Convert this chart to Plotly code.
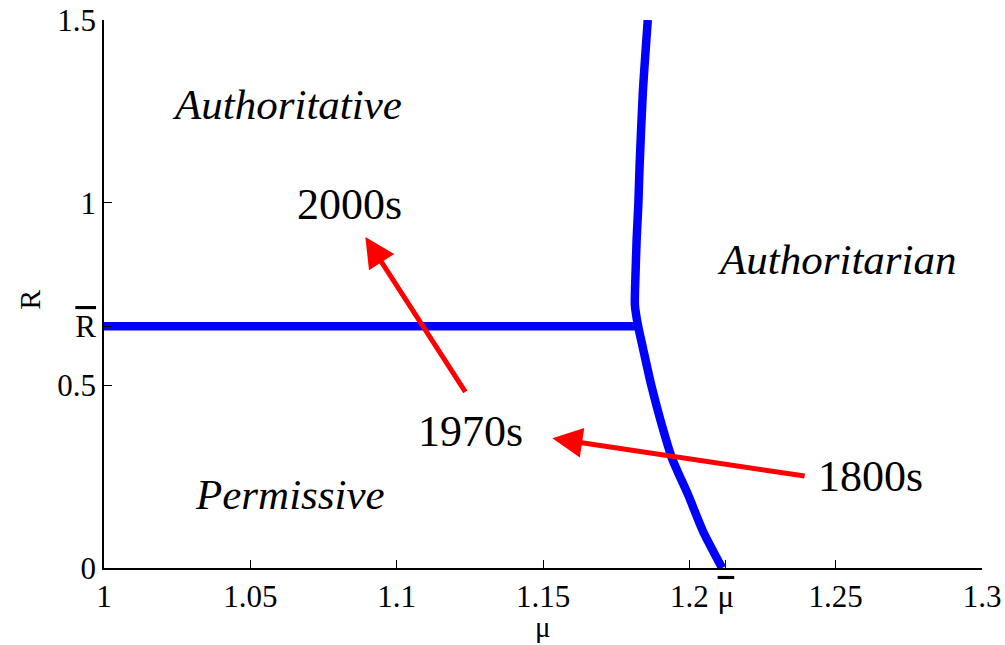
import plotly.graph_objects as go

# Boundary curve (R vs mu)
curve_R  = [1.5, 1.3, 1.1, 1.0, 0.9, 0.8, 0.72, 0.662, 0.6, 0.5, 0.4, 0.3, 0.2, 0.1, 0.0]
curve_mu = [1.1858, 1.1841, 1.1830, 1.1826, 1.1820, 1.1816, 1.1814, 1.1825, 1.1842, 1.1870,
            1.1903, 1.1941, 1.1996, 1.2047, 1.2112]

R_bar = 0.662
mu_bar = 1.2125
hline_mu = [1.0, 1.1825]
hline_R = [R_bar, R_bar]

x_tickvals = [1.0, 1.05, 1.1, 1.15, 1.2, mu_bar, 1.25, 1.3]
x_ticktext = ["1", "1.05", "1.1", "1.15", "1.2",
              "<span style='text-decoration:overline'>\u03bc</span>", "1.25", "1.3"]
y_tickvals = [0, 0.5, R_bar, 1, 1.5]
y_ticktext = ["0", "0.5", "<span style='text-decoration:overline'>R</span>", "1", "1.5"]

region_labels = ["Authoritative", "Authoritarian", "Permissive"]
region_x = [1.0625, 1.2505, 1.0635]
region_y = [1.269, 0.844, 0.201]

era_labels = ["2000s", "1970s", "1800s"]
era_x = [1.0838, 1.1251, 1.2619]
era_y = [0.996, 0.374, 0.251]

# arrows: (tail_mu, tail_R) -> (head_mu, head_R)
arrow_tail_mu = [1.1238, 1.2399]
arrow_tail_R  = [0.478, 0.251]
arrow_head_mu = [1.0893, 1.1532]
arrow_head_R  = [0.906, 0.355]

x_title = "\u03bc"
y_title = "R"

font_family = "Liberation Serif"

fig = go.Figure()
fig.add_trace(go.Scatter(x=curve_mu, y=curve_R, mode="lines",
                         line=dict(color="#0000FF", width=8.5, shape="spline", smoothing=0.6),
                         hoverinfo="skip"))
fig.add_trace(go.Scatter(x=hline_mu, y=hline_R, mode="lines",
                         line=dict(color="#0000FF", width=8.5), hoverinfo="skip"))

annotations = []
for t, x, y in zip(region_labels, region_x, region_y):
    annotations.append(dict(x=x, y=y, xref="x", yref="y", text="<i>%s</i>" % t,
                            showarrow=False, font=dict(family=font_family, size=43, color="black")))
for t, x, y in zip(era_labels, era_x, era_y):
    annotations.append(dict(x=x, y=y, xref="x", yref="y", text=t,
                            showarrow=False, font=dict(family=font_family, size=44, color="black")))
for tx, ty, hx, hy in zip(arrow_tail_mu, arrow_tail_R, arrow_head_mu, arrow_head_R):
    annotations.append(dict(x=hx, y=hy, ax=tx, ay=ty, xref="x", yref="y", axref="x", ayref="y",
                            text="", showarrow=True, arrowhead=2, arrowsize=1.2, arrowwidth=5,
                            arrowcolor="#FF0000"))
# axis titles
annotations.append(dict(x=0.5, y=-0.108, xref="paper", yref="paper", text=x_title,
                        showarrow=False, yanchor="middle",
                        font=dict(family=font_family, size=29, color="black")))
annotations.append(dict(x=-0.085, y=0.49, xref="paper", yref="paper", text=y_title,
                        showarrow=False, textangle=-90, xanchor="center",
                        font=dict(family=font_family, size=30, color="black")))

fig.update_layout(
    width=1005, height=645,
    margin=dict(l=104, r=23, t=20, b=77),
    paper_bgcolor="white", plot_bgcolor="white",
    showlegend=False,
    font=dict(family=font_family, size=31, color="black"),
    annotations=annotations,
    xaxis=dict(range=[1.0, 1.3], tickvals=x_tickvals, ticktext=x_ticktext, automargin=False,
               showgrid=False, zeroline=False, showline=True, linecolor="black", linewidth=1.5,
               ticks="inside", ticklen=8, tickcolor="black", tickwidth=1,
               tickfont=dict(family=font_family, size=31)),
    yaxis=dict(range=[0, 1.5], tickvals=y_tickvals, ticktext=y_ticktext, automargin=False,
               showgrid=False, zeroline=False, showline=True, linecolor="black", linewidth=1.5,
               ticks="inside", ticklen=8, tickcolor="black", tickwidth=1,
               tickfont=dict(family=font_family, size=31)),
)

fig.write_html("out.html", config={"displayModeBar": False},
               post_script="document.body.style.margin='0px';document.body.style.overflow='hidden';")
